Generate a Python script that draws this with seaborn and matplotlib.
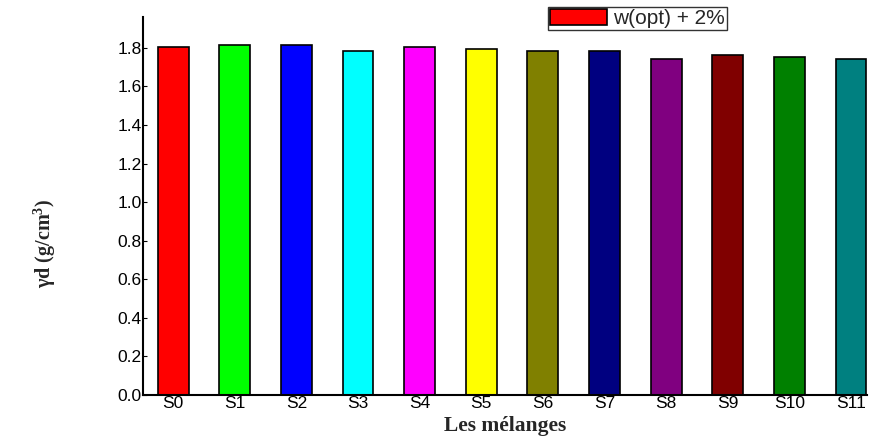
import pandas as pd
import matplotlib.pyplot as plt
import seaborn as sns

# données
melanges = ['S0', 'S1', 'S2', 'S3', 'S4', 'S5', 'S6', 'S7', 'S8', 'S9', 'S10', 'S11']
gamma_d = [1.803, 1.813, 1.813, 1.784, 1.802, 1.793, 1.784, 1.786, 1.744, 1.765, 1.754, 1.744]
couleurs = ['#ff0000', '#00ff00', '#0000ff', '#00ffff', '#ff00ff', '#ffff00',
            '#808000', '#000080', '#800080', '#800000', '#008000', '#008080']
legende = 'w(opt) + 2%'

df = pd.DataFrame({'melange': melanges, 'gd': gamma_d})

sns.set_style('ticks')
plt.rcParams['font.family'] = ['Liberation Sans', 'DejaVu Sans']
plt.rcParams['mathtext.fontset'] = 'custom'
plt.rcParams['mathtext.rm'] = 'Liberation Serif:bold'
plt.rcParams['mathtext.default'] = 'rm'

fig = plt.figure(figsize=(8.73, 4.38), dpi=100)
ax = fig.add_axes([0.1638, 0.0982, 0.8293, 0.863])

sns.barplot(data=df, x='melange', y='gd', hue='melange', palette=couleurs, saturation=1,
            width=0.5, edgecolor='black', linewidth=1.2, legend=False, ax=ax)

ax.set_xlim(-0.49, 11.26)
ax.set_ylim(0, 1.96)
ax.set_yticks([0.0, 0.2, 0.4, 0.6, 0.8, 1.0, 1.2, 1.4, 1.6, 1.8])
ax.set_yticklabels([f'{v:.1f}' for v in ax.get_yticks()])

sns.despine(ax=ax)
for s in ['left', 'bottom']:
    ax.spines[s].set_linewidth(1.5)
    ax.spines[s].set_color('black')
ax.tick_params(axis='both', direction='in', length=3, width=0.8, pad=1, labelsize=12.5, colors='black')

ax.set_xlabel('Les mélanges', fontsize=15.5, fontweight='bold', family='Liberation Serif', labelpad=3)
ax.set_ylabel('γd (g/cm$^{3}$)', fontsize=14.5, fontweight='bold', family='Liberation Serif')
ax.yaxis.set_label_coords(-0.117, 0.40)

ax.legend([ax.patches[0]], [legende], loc='upper left', bbox_to_anchor=(0.559, 1.026),
          fontsize=15, frameon=True, fancybox=False, edgecolor='black',
          handlelength=2.75, handleheight=0.75, borderpad=0.1, handletextpad=0.3,
          borderaxespad=0)

fig.savefig('out.png', dpi=100)
